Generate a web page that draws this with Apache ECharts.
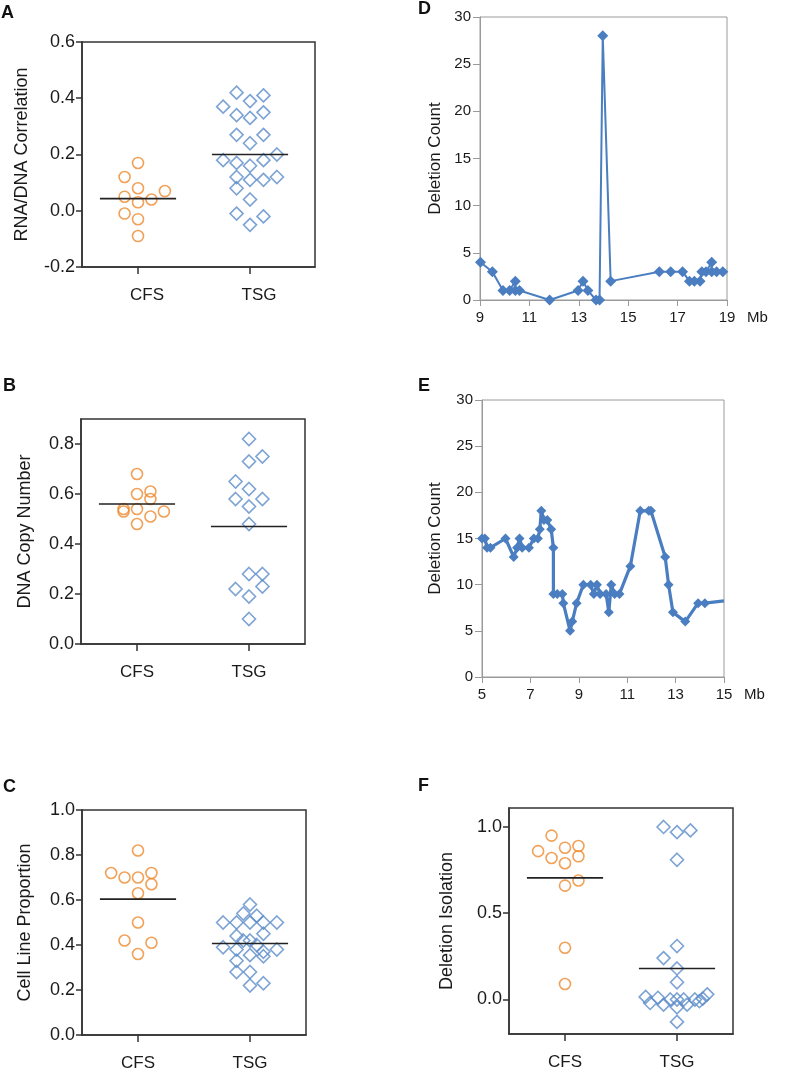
<!DOCTYPE html>
<html>
<head>
<meta charset="utf-8">
<script src="https://cdn.jsdelivr.net/npm/echarts@6/dist/echarts.min.js"></script>
<style>html,body{margin:0;padding:0;background:#fff}#c{width:791px;height:1075px}</style>
</head>
<body>
<div id="c"></div>
<script>
// ---------- data ----------
const groups = ['CFS', 'TSG'];

// Panel A: RNA/DNA Correlation
const aCfsVal = [0.17, 0.12, 0.08, 0.07, 0.05, 0.03, 0.04, -0.01, -0.03, -0.09];
const aCfsOff = [0, -0.12, 0, 0.24, -0.12, 0, 0.12, -0.12, 0, 0];
const aTsgVal = [0.42, 0.41, 0.39, 0.37, 0.34, 0.33, 0.35, 0.27, 0.27, 0.24, 0.20, 0.18, 0.17, 0.16, 0.18, 0.12, 0.11, 0.11, 0.12, 0.08, 0.04, -0.01, -0.02, -0.05];
const aTsgOff = [-0.12, 0.12, 0, -0.24, -0.12, 0, 0.12, -0.12, 0.12, 0, 0.24, -0.24, -0.12, 0, 0.12, -0.12, 0, 0.12, 0.24, -0.12, 0, -0.12, 0.12, 0];
const aCenter = [0.043, 0.20];
const aTicks = [-0.2, 0, 0.2, 0.4, 0.6];

// Panel B: DNA Copy Number
const bCfsVal = [0.68, 0.60, 0.61, 0.58, 0.54, 0.53, 0.54, 0.53, 0.51, 0.48];
const bCfsOff = [0, 0, 0.12, 0.12, -0.12, -0.12, 0, 0.24, 0.12, 0];
const bTsgVal = [0.82, 0.75, 0.73, 0.65, 0.62, 0.58, 0.58, 0.55, 0.48, 0.28, 0.28, 0.22, 0.23, 0.19, 0.10];
const bTsgOff = [0, 0.12, 0, -0.12, 0, -0.12, 0.12, 0, 0, 0, 0.12, -0.12, 0.12, 0, 0];
const bCenter = [0.56, 0.47];
const bTicks = [0, 0.2, 0.4, 0.6, 0.8];

// Panel C: Cell Line Proportion
const cCfsVal = [0.82, 0.72, 0.70, 0.70, 0.72, 0.67, 0.63, 0.50, 0.42, 0.41, 0.36];
const cCfsOff = [0, -0.24, -0.12, 0, 0.12, 0.12, 0, 0, -0.12, 0.12, 0];
const cTsgVal = [0.58, 0.54, 0.53, 0.50, 0.50, 0.50, 0.50, 0.50, 0.45, 0.44, 0.42, 0.42, 0.40, 0.39, 0.38, 0.38, 0.37, 0.35, 0.355, 0.33, 0.28, 0.28, 0.22, 0.23];
const cTsgOff = [0, -0.06, 0.06, -0.24, -0.12, 0, 0.12, 0.24, 0.12, -0.12, -0.06, 0, 0.06, -0.24, -0.12, 0.24, 0.12, 0.12, 0, -0.12, -0.12, 0, 0, 0.12];
const cCenter = [0.604, 0.407];
const cTicks = [0, 0.2, 0.4, 0.6, 0.8, 1.0];

// Panel D: Deletion Count vs Mb
const dMb = [9.02, 9.5, 9.93, 10.2, 10.43, 10.43, 10.6, 11.82, 12.97, 13.17, 13.37, 13.7, 13.84, 13.97, 14.29, 16.26, 16.72, 17.2, 17.48, 17.68, 17.91, 17.98, 18.15, 18.38, 18.38, 18.58, 18.83];
const dCount = [4, 3, 1, 1, 2, 1, 1, 0, 1, 2, 1, 0, 0, 28, 2, 3, 3, 3, 2, 2, 2, 3, 3, 4, 3, 3, 3];
const dYTicks = [0, 5, 10, 15, 20, 25, 30];
const dXTicks = [9, 11, 13, 15, 17, 19];

// Panel E: Deletion Count vs Mb
const eMb = [5.0, 5.12, 5.21, 5.35, 5.97, 6.31, 6.45, 6.55, 6.66, 6.94, 7.14, 7.31, 7.39, 7.45, 7.56, 7.7, 7.86, 7.95, 7.95, 8.11, 8.32, 8.36, 8.64, 8.73, 8.91, 9.19, 9.49, 9.62, 9.75, 9.88, 10.13, 10.24, 10.34, 10.48, 10.68, 11.13, 11.54, 11.89, 11.98, 12.57, 12.71, 12.89, 13.4, 13.93, 14.21, 15.0];
const eCount = [15, 15, 14, 14, 15, 13, 14, 15, 14, 14, 15, 15, 16, 18, 17, 17, 16, 14, 9, 9, 9, 8, 5, 6, 8, 10, 10, 9, 10, 9, 9, 7, 10, 9, 9, 12, 18, 18, 18, 13, 10, 7, 6, 8, 8, 8.25];
const eYTicks = [0, 5, 10, 15, 20, 25, 30];
const eXTicks = [5, 7, 9, 11, 13, 15];

// Panel F: Deletion Isolation
const fCfsVal = [0.95, 0.86, 0.88, 0.89, 0.82, 0.83, 0.79, 0.69, 0.66, 0.30, 0.09];
const fCfsOff = [-0.12, -0.24, 0, 0.12, -0.12, 0.12, 0, 0.12, 0, 0, 0];
const fTsgVal = [1.00, 0.97, 0.98, 0.81, 0.31, 0.24, 0.18, 0.10, 0.015, 0.01, 0.0, 0.0, 0.0, 0.005, 0.03, -0.02, -0.03, -0.045, -0.03, -0.01, 0.0, -0.13];
const fTsgOff = [-0.12, 0, 0.12, 0, 0, -0.12, 0, 0, -0.28, -0.17, -0.06, 0.06, 0.16, 0.23, 0.27, -0.24, -0.12, 0, 0.09, 0.2, 0, 0];
const fCenter = [0.705, 0.18];
const fTicks = [0, 0.5, 1.0];

// ---------- styling ----------
const ORANGE = '#EE8A2E';
const BLUE = '#5B8CC8';
const LINE = '#4A7EC0';
const DARK = '#333333';
const TXT = '#1a1a1a';
const FONT = '"Liberation Sans", Arial, Helvetica, sans-serif';

const grids = [
  {left: 82, top: 42, width: 233, height: 225},   // A
  {left: 81, top: 419, width: 224, height: 225},  // B
  {left: 82, top: 810, width: 224, height: 225},  // C
  {left: 480, top: 17, width: 247, height: 283},  // D
  {left: 482, top: 400, width: 242, height: 277}, // E
  {left: 509, top: 808, width: 224, height: 226}  // F
].map((g, i) => Object.assign({
  show: true,
  borderColor: i === 3 || i === 4 ? '#9a9a9a' : DARK,
  borderWidth: i === 3 || i === 4 ? 1 : 1.5,
  backgroundColor: 'transparent',
  containLabel: false
}, g));

function catX(gi, max, shift) {
  return {
    type: 'value', gridIndex: gi, min: 0.5, max: max,
    axisLine: {show: true, onZero: false, lineStyle: {color: DARK, width: 1.5}},
    axisTick: {show: true, customValues: [1, 2], length: 7, lineStyle: {color: DARK, width: 1.5}},
    axisLabel: {customValues: [1, 2], formatter: v => groups[Math.round(v) - 1] || '',
      fontSize: 17, color: TXT, fontFamily: FONT, margin: 20, padding: [0, 0, 0, shift]},
    splitLine: {show: false}
  };
}
function valY(gi, min, max, ticks, dec, name, gap) {
  return {
    type: 'value', gridIndex: gi, min: min, max: max,
    axisLine: {show: true, onZero: false, lineStyle: {color: DARK, width: 1.5}},
    axisTick: {show: true, customValues: ticks, length: 6, lineStyle: {color: DARK, width: 1.5}},
    axisLabel: {customValues: ticks, formatter: v => (Math.abs(v) < 1e-9 ? 0 : v).toFixed(dec),
      fontSize: 18, color: TXT, fontFamily: FONT, margin: 7},
    splitLine: {show: false},
    name: name, nameLocation: 'middle', nameGap: gap,
    nameTextStyle: {fontSize: 18, color: TXT, fontFamily: FONT}
  };
}
function mbX(gi, min, max, ticks) {
  return {
    type: 'value', gridIndex: gi, min: min, max: max,
    axisLine: {show: true, onZero: false, lineStyle: {color: '#9a9a9a', width: 1}},
    axisTick: {show: true, customValues: ticks, length: 6, lineStyle: {color: '#9a9a9a', width: 1}},
    axisLabel: {customValues: ticks, fontSize: 15, color: TXT, fontFamily: FONT, margin: 10},
    splitLine: {show: false}
  };
}
function countY(gi, ticks, gap) {
  return {
    type: 'value', gridIndex: gi, min: 0, max: 30,
    axisLine: {show: true, onZero: false, lineStyle: {color: '#9a9a9a', width: 1}},
    axisTick: {show: true, customValues: ticks, length: 7, lineStyle: {color: '#9a9a9a', width: 1}},
    axisLabel: {customValues: ticks, fontSize: 15, color: TXT, fontFamily: FONT, margin: 9},
    splitLine: {show: false},
    name: 'Deletion Count', nameLocation: 'middle', nameGap: gap,
    nameTextStyle: {fontSize: 17, color: TXT, fontFamily: FONT}
  };
}

function swarm(gi, vals, offs, g) {
  const circle = g === 0;
  return {
    type: 'scatter', xAxisIndex: gi, yAxisIndex: gi,
    data: vals.map((v, i) => [g + 1 + offs[i], v]),
    symbol: circle ? 'circle' : 'diamond', symbolSize: circle ? 11 : 13,
    itemStyle: {color: 'rgba(255,255,255,0)', borderColor: circle ? ORANGE : BLUE, borderWidth: 1.6},
    silent: true, z: 3
  };
}
function centerLine(gi, m, g) {
  return {
    type: 'line', xAxisIndex: gi, yAxisIndex: gi,
    data: [[g + 1 - 0.34, m], [g + 1 + 0.34, m]],
    symbol: 'none', lineStyle: {color: '#222', width: 1.6}, silent: true, z: 4
  };
}
function traceLine(gi, xs, ys, width, size) {
  const last = xs.length - 1;
  return {
    type: 'line', xAxisIndex: gi, yAxisIndex: gi,
    data: xs.map((x, i) => i === last && gi === 4 ? {value: [x, ys[i]], symbol: 'none'} : [x, ys[i]]),
    symbol: 'diamond', symbolSize: size, showAllSymbol: true,
    lineStyle: {color: LINE, width: width}, itemStyle: {color: LINE},
    silent: true, clip: true, z: 3
  };
}

const swarmPanels = [
  [0, aCfsVal, aCfsOff, aTsgVal, aTsgOff, aCenter],
  [1, bCfsVal, bCfsOff, bTsgVal, bTsgOff, bCenter],
  [2, cCfsVal, cCfsOff, cTsgVal, cTsgOff, cCenter],
  [5, fCfsVal, fCfsOff, fTsgVal, fTsgOff, fCenter]
];
const series = [];
swarmPanels.forEach(p => {
  series.push(swarm(p[0], p[1], p[2], 0));
  series.push(swarm(p[0], p[3], p[4], 1));
  series.push(centerLine(p[0], p[5][0], 0));
  series.push(centerLine(p[0], p[5][1], 1));
});
series.push(traceLine(3, dMb, dCount, 2, 11));
series.push(traceLine(4, eMb, eCount, 3.2, 10));

const xAxis = [
  catX(0, 2.58, 18),
  catX(1, 2.5, 0),
  catX(2, 2.5, 0),
  mbX(3, 9, 19, dXTicks),
  mbX(4, 5, 15, eXTicks),
  catX(5, 2.5, 0)
];
const yAxis = [
  valY(0, -0.2, 0.6, aTicks, 1, 'RNA/DNA Correlation', 51),
  valY(1, 0, 0.9, bTicks, 1, 'DNA Copy Number', 47),
  valY(2, 0, 1.0, cTicks, 1, 'Cell Line Proportion', 48),
  countY(3, dYTicks, 36),
  countY(4, eYTicks, 38),
  valY(5, -0.2, 1.11, fTicks, 1, 'Deletion Isolation', 53)
];

const letter = (t, x, y) => ({type: 'text', left: x, top: y,
  style: {text: t, fontSize: 18, fontWeight: 'bold', fill: '#111', font: 'bold 18px ' + FONT}});
const graphic = [
  letter('A', 1, 4), letter('B', 3, 377), letter('C', 3, 778),
  letter('D', 418, 0), letter('E', 418, 377), letter('F', 418, 777),
  {type: 'text', left: 747, top: 310, style: {text: 'Mb', font: '15px ' + FONT, fill: TXT}},
  {type: 'text', left: 744, top: 687, style: {text: 'Mb', font: '15px ' + FONT, fill: TXT}}
];

const chart = echarts.init(document.getElementById('c'), null, {renderer: 'canvas', width: 791, height: 1075});
chart.setOption({
  animation: false,
  backgroundColor: '#ffffff',
  grid: grids,
  xAxis: xAxis,
  yAxis: yAxis,
  series: series,
  graphic: graphic
});
</script>
</body>
</html>
